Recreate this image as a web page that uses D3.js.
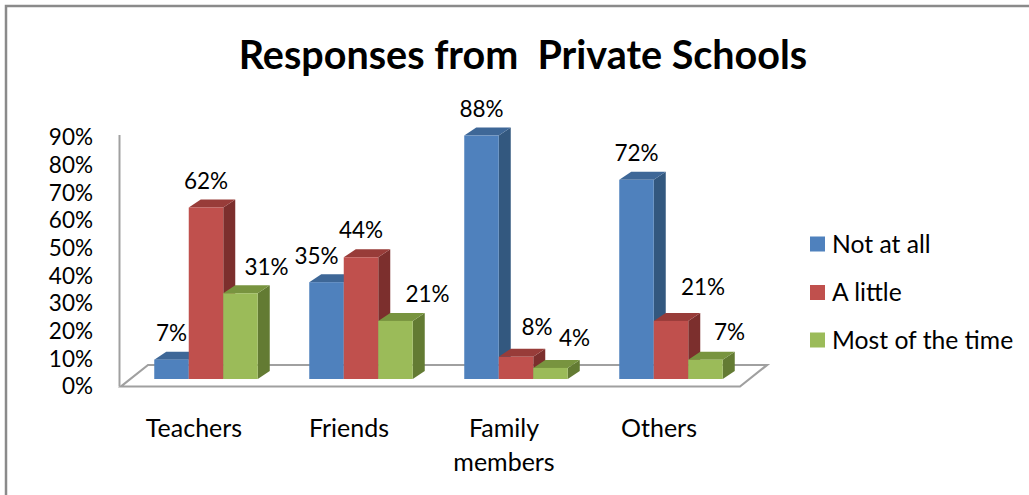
<!DOCTYPE html>
<html>
<head>
<meta charset="utf-8">
<script src="https://cdn.jsdelivr.net/npm/d3@7"></script>
<style>
  body { margin: 0; background: #fff; }
  svg { display: block; }
  text { font-family: Lato, "Noto Sans", sans-serif; fill: #000; }
</style>
</head>
<body>
<svg id="chart" width="1029" height="495"></svg>
<script>
// Survey responses, share of respondents per source
const categories = ["Teachers", "Friends", "Family members", "Others"];
const seriesNames = ["Not at all", "A little", "Most of the time"];
const notAtAll = [0.07, 0.35, 0.88, 0.72];
const aLittle = [0.62, 0.44, 0.08, 0.21];
const mostOfTheTime = [0.31, 0.21, 0.04, 0.07];
const tickValues = [0, 0.1, 0.2, 0.3, 0.4, 0.5, 0.6, 0.7, 0.8, 0.9];

// Small nudges for value labels that would otherwise collide: [dx, dy] per category, per series
const labelNudge = [
  [[0, 0], [0, 0], [26, 1]],
  [[-10, 1], [0, 0], [32, 0]],
  [[0, 0], [21, -3], [24, -3]],
  [[0, 0], [32, -7], [24, -1]]
];

const series = [notAtAll, aLittle, mostOfTheTime];
const faceColors = [
  { front: "#4F81BD", top: "#3E6797", side: "#33587F" },
  { front: "#C0504D", top: "#983C39", side: "#7C2F2D" },
  { front: "#9BBB59", top: "#78943F", side: "#637B33" }
];

const svg = d3.select("#chart");

// Outer chart frame
svg.append("rect")
  .attr("x", 6).attr("y", 6).attr("width", 1100).attr("height", 600)
  .attr("fill", "none").attr("stroke", "#8A8A8A").attr("stroke-width", 2.5);

// Title
svg.append("text")
  .attr("x", 523).attr("y", 69)
  .attr("text-anchor", "middle")
  .style("font-weight", "700").style("font-size", "39.5px")
  .style("white-space", "pre")
  .text("Responses from  Private Schools");

// Scales: front edge of the floor carries the axes, bars sit a little deeper
const x = d3.scaleBand().domain(categories).range([120, 740]).paddingInner(0).paddingOuter(0);
const yFront = d3.scaleLinear().domain([0, 0.9]).range([386.5, 137.5]);
const setBack = { dx: 8.5, dy: -7.5 };      // bar row position inside the floor depth
const barDepth = { dx: 12, dy: -8 };       // 3D thickness of each bar
const floorDepth = { dx: 27, dy: -21.5 };  // depth of the floor plate
const xs = d3.scaleBand().domain(d3.range(series.length)).range([-51.75, 51.75]).padding(0);

// Floor plate and left wall edge
const fx0 = x.range()[0] + 1, fx1 = x.range()[1], fy = yFront(0);
svg.append("path")
  .attr("d", `M${fx0},${fy} L${fx1},${fy} L${fx1 + floorDepth.dx},${fy + floorDepth.dy} L${fx0 + floorDepth.dx},${fy + floorDepth.dy} Z`)
  .attr("fill", "#fff").attr("stroke", "#A0A0A0").attr("stroke-width", 2.2)
  .attr("stroke-linejoin", "miter");
svg.append("line")
  .attr("x1", fx0 - 1.5).attr("x2", fx0 - 1.5)
  .attr("y1", fy).attr("y2", yFront(0.9) - 2.5)
  .attr("stroke", "#A0A0A0").attr("stroke-width", 2);

// Bars, drawn left to right so each front face covers the neighbour's side
const barsG = svg.append("g");
categories.forEach((cat, ci) => {
  series.forEach((vals, si) => {
    const v = vals[ci];
    const x0 = x(cat) + x.bandwidth() / 2 + setBack.dx + xs(si);
    const x1 = x0 + xs.bandwidth();
    const yb = yFront(0) + setBack.dy;
    const yt = yFront(v) + setBack.dy;
    const c = faceColors[si];
    const g = barsG.append("g");
    g.append("path")
      .attr("d", `M${x1},${yb} L${x1 + barDepth.dx},${yb + barDepth.dy} L${x1 + barDepth.dx},${yt + barDepth.dy} L${x1},${yt} Z`)
      .attr("fill", c.side);
    g.append("path")
      .attr("d", `M${x0},${yt} L${x0 + barDepth.dx},${yt + barDepth.dy} L${x1 + barDepth.dx},${yt + barDepth.dy} L${x1},${yt} Z`)
      .attr("fill", c.top);
    g.append("rect")
      .attr("x", x0).attr("y", yt).attr("width", x1 - x0).attr("height", yb - yt)
      .attr("fill", c.front);
  });
});

// Value labels
const fmt = d3.format(".0%");
categories.forEach((cat, ci) => {
  series.forEach((vals, si) => {
    const v = vals[ci];
    const cx = x(cat) + x.bandwidth() / 2 + setBack.dx + xs(si) + xs.bandwidth() / 2;
    const n = labelNudge[ci][si];
    svg.append("text")
      .attr("x", cx + n[0])
      .attr("y", yFront(v) + setBack.dy - 27 + n[1])
      .attr("dy", "0.36em")
      .attr("text-anchor", "middle")
      .style("font-size", "22.5px")
      .text(fmt(v));
  });
});

// Y axis
const yAxis = d3.axisLeft(yFront).tickValues(tickValues).tickFormat(fmt).tickSize(0).tickPadding(0);
const yg = svg.append("g").attr("transform", "translate(93,0)").call(yAxis);
yg.select(".domain").remove();
yg.selectAll("text").style("font-size", "22.5px").style("font-family", "Lato, 'Noto Sans', sans-serif").attr("fill", "#000");

// X axis (category names, two-line where needed)
const xAxis = d3.axisBottom(x).tickSize(0).tickPadding(0);
const xg = svg.append("g").attr("transform", "translate(-3.5,428)").call(xAxis);
xg.select(".domain").remove();
xg.selectAll("text")
  .style("font-size", "25px").style("font-family", "Lato, 'Noto Sans', sans-serif").attr("fill", "#000")
  .attr("y", 0).attr("dy", 0)
  .each(function (d) {
    const words = d.split(" ");
    const t = d3.select(this);
    t.text(null);
    words.forEach((w, i) => {
      t.append("tspan").attr("x", 0).attr("dy", i === 0 ? "0.36em" : "1.36em").text(w);
    });
  });

// Legend
const legend = svg.append("g").attr("transform", "translate(810,0)");
const legendY = [244, 292.5, 340];
seriesNames.forEach((name, i) => {
  legend.append("rect")
    .attr("x", 0).attr("y", legendY[i] - 7.5).attr("width", 15).attr("height", 15)
    .attr("fill", faceColors[i].front);
  legend.append("text")
    .attr("x", 22).attr("y", legendY[i]).attr("dy", "0.36em")
    .style("font-size", "24.7px")
    .text(name);
});
</script>
</body>
</html>
